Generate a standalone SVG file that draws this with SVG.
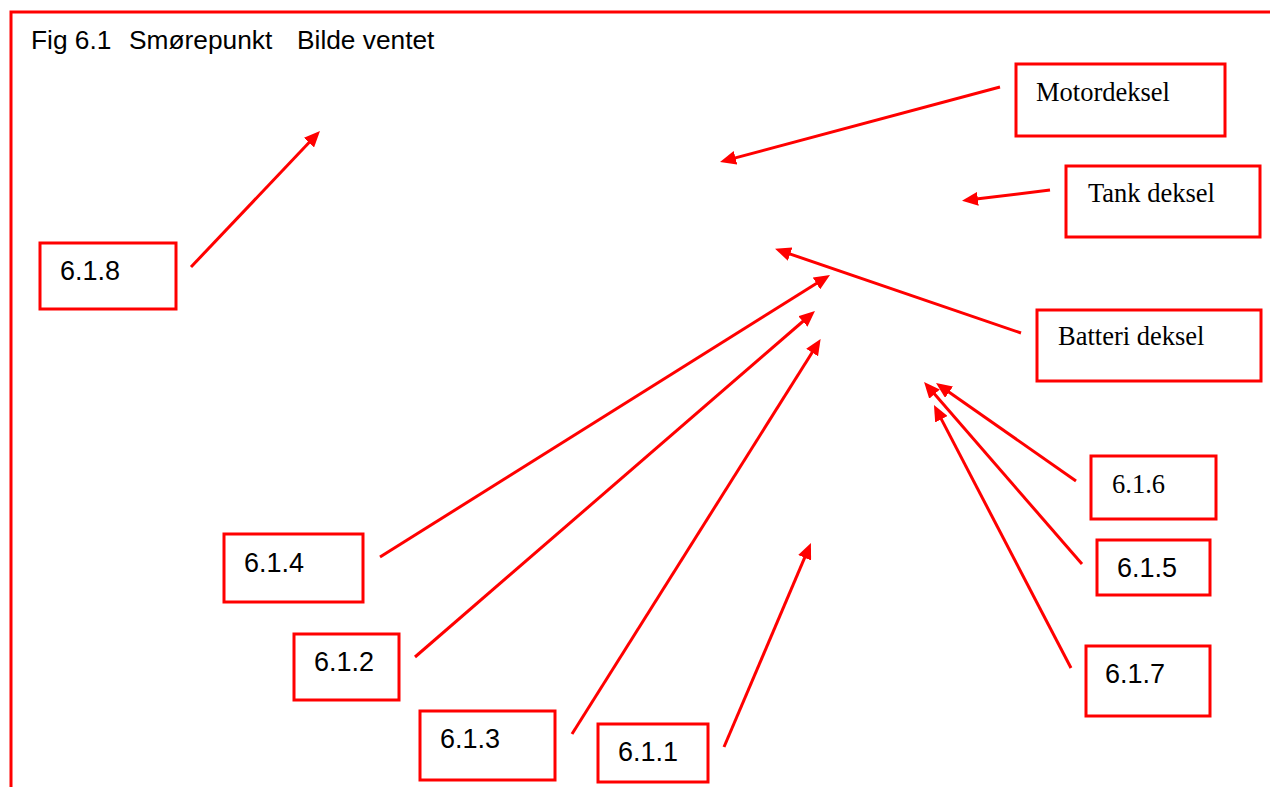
<svg xmlns="http://www.w3.org/2000/svg" width="1270" height="787" viewBox="0 0 1270 787">
<style>
.frame{fill:none;stroke:#ff0000;stroke-width:3}
.box{fill:#ffffff;stroke:#ff0000;stroke-width:3}
.sans{font-family:"Liberation Sans",Arial,sans-serif;font-size:27px;fill:#000}
.title{font-family:"Liberation Sans",Arial,sans-serif;font-size:26.3px;fill:#000}
.serif{font-family:"Liberation Serif","Times New Roman",serif;font-size:26.5px;fill:#000}
.arr{fill:none;stroke:#ff0000;stroke-width:3;marker-end:url(#ah)}
</style>
<defs>
<marker id="ah" viewBox="0 0 16 14" refX="6" refY="7" markerWidth="16" markerHeight="14" markerUnits="userSpaceOnUse" orient="auto">
<path d="M0,0 L16,7 L0,14 z" fill="#ff0000"/>
</marker>
</defs>
<rect width="1270" height="787" fill="#ffffff"/>
<path class="frame" d="M11,787 L11,12 L1270,12"/>
<g id="title">
<text class="title" x="31" y="49">Fig 6.1</text>
<text class="title" x="129" y="49">Smørepunkt</text>
<text class="title" x="297" y="49">Bilde ventet</text>
</g>
<g id="connectors">
<line class="arr" x1="191" y1="267" x2="313.1" y2="138.3"/>
<line class="arr" x1="1000" y1="87" x2="729.7" y2="159.4"/>
<line class="arr" x1="1050" y1="190" x2="971.9" y2="199.6"/>
<line class="arr" x1="1021" y1="333" x2="784.5" y2="252.1"/>
<line class="arr" x1="380" y1="557" x2="821.5" y2="280.3"/>
<line class="arr" x1="415" y1="657" x2="807.4" y2="317.5"/>
<line class="arr" x1="572" y1="734" x2="815.3" y2="347.5"/>
<line class="arr" x1="724" y1="747" x2="807" y2="552.2"/>
<line class="arr" x1="1076" y1="481" x2="944.2" y2="388.7"/>
<line class="arr" x1="1082" y1="564" x2="930.6" y2="389.6"/>
<line class="arr" x1="1071" y1="668" x2="938.6" y2="413.9"/>
</g>
<g id="n618"><rect class="box" x="40" y="243" width="136" height="66"/><text class="sans" x="60" y="280">6.1.8</text></g>
<g id="motordeksel"><rect class="box" x="1016" y="64" width="209" height="72"/><text class="serif" x="1036" y="101">Motordeksel</text></g>
<g id="tankdeksel"><rect class="box" x="1066" y="166" width="194" height="71"/><text class="serif" x="1088" y="202">Tank deksel</text></g>
<g id="batterideksel"><rect class="box" x="1037" y="310" width="224" height="71"/><text class="serif" x="1058" y="345">Batteri deksel</text></g>
<g id="n616"><rect class="box" x="1091" y="456" width="125" height="63"/><text class="serif" x="1112" y="493">6.1.6</text></g>
<g id="n615"><rect class="box" x="1097" y="540" width="113" height="55"/><text class="sans" x="1117" y="577">6.1.5</text></g>
<g id="n617"><rect class="box" x="1086" y="646" width="124" height="70"/><text class="sans" x="1105" y="683">6.1.7</text></g>
<g id="n614"><rect class="box" x="224" y="534" width="139" height="68"/><text class="sans" x="244" y="572">6.1.4</text></g>
<g id="n612"><rect class="box" x="294" y="634" width="105" height="66"/><text class="sans" x="314" y="671">6.1.2</text></g>
<g id="n613"><rect class="box" x="420" y="711" width="135" height="69"/><text class="sans" x="440" y="748">6.1.3</text></g>
<g id="n611"><rect class="box" x="598" y="724" width="110" height="58"/><text class="sans" x="618" y="761">6.1.1</text></g>
</svg>
